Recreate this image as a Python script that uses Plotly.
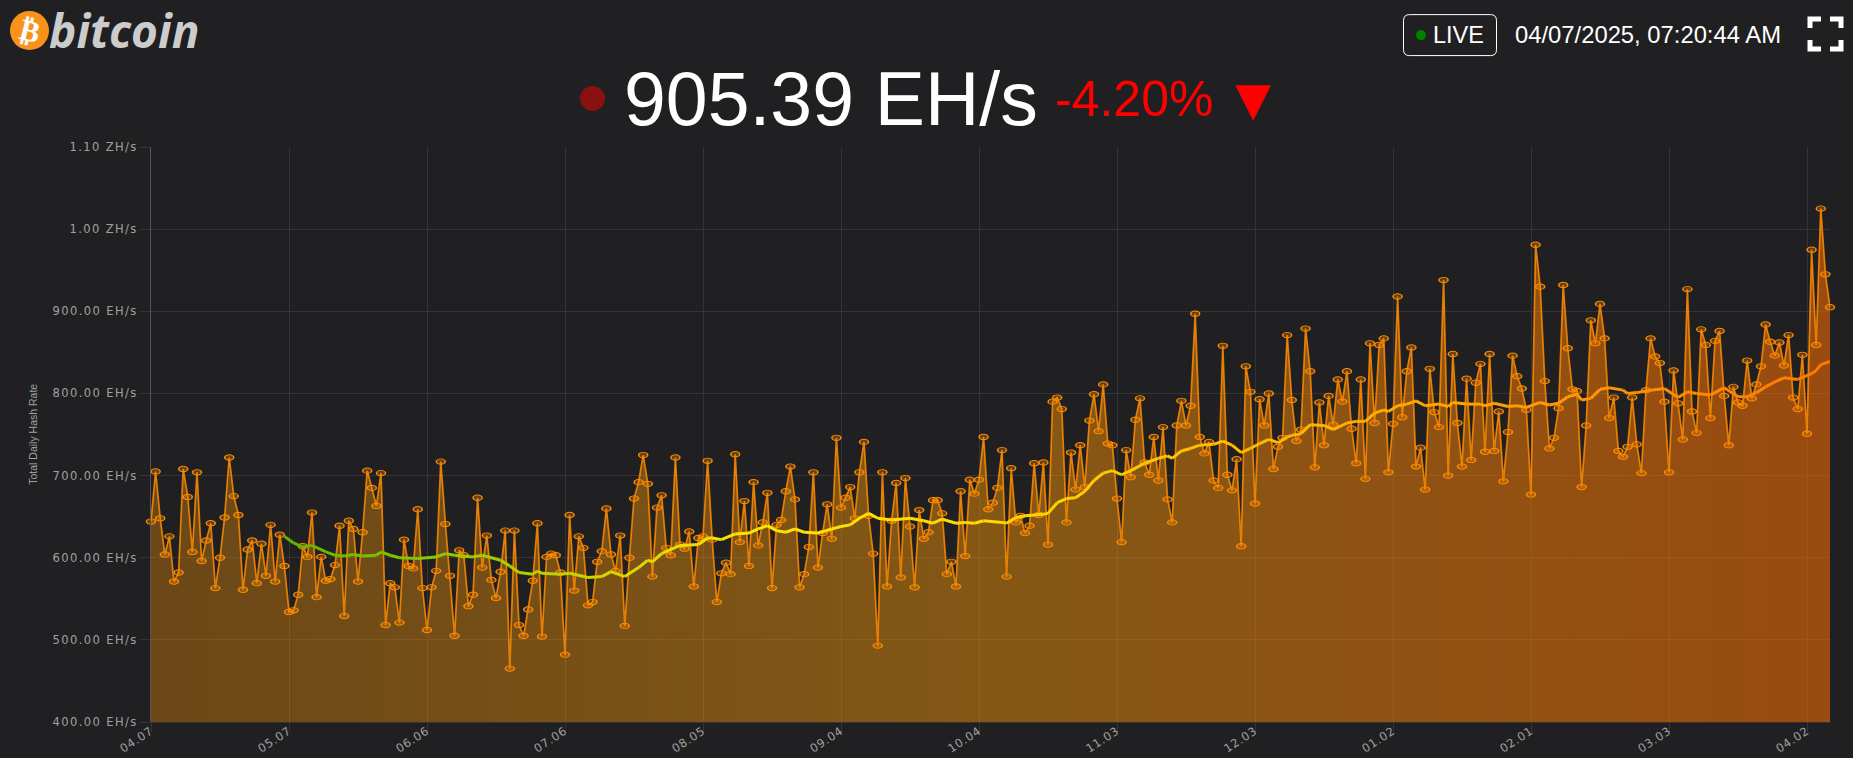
import datetime as dt
import plotly.graph_objects as go

START = dt.date(2024, 4, 7)

# Total daily hash rate (EH/s), one value per day
hash_apr_may = [644, 705, 648, 604, 626, 571, 582, 708, 674, 607, 704, 596, 621, 642, 563, 600, 649, 722, 675, 652,
                561, 610, 621, 569, 617, 578, 640, 571, 628, 590, 534, 536, 555, 614, 601, 655, 552, 601, 572, 574,
                591, 639, 529, 645, 635, 571, 631, 706, 685, 663, 703, 518, 569, 564, 521, 622, 590, 587, 659, 563]
hash_jun_jul = [512, 564, 584, 717, 641, 578, 505, 609, 603, 541, 555, 673, 588, 627, 573, 551, 583, 633, 465, 633,
                518, 505, 537, 572, 642, 504, 601, 605, 603, 582, 482, 652, 560, 626, 612, 542, 546, 595, 608, 660,
                604, 584, 627, 517, 600, 672, 692, 725, 690, 577, 661, 676, 612, 603, 722, 616, 611, 632, 565, 624,
                626, 718]
hash_aug_oct = [622, 546, 581, 594, 580, 726, 619, 669, 590, 692, 615, 643, 679, 563, 640, 646, 681, 711, 671, 564,
                580, 613, 704, 588, 630, 665, 623, 746, 661, 673, 686, 648, 704, 741, 651, 605, 493, 704, 565, 645,
                691, 576, 697, 638, 564, 658, 623, 631, 670, 670, 654, 580, 595, 565, 681, 602, 695, 678, 695, 747,
                659, 667, 685, 731]
hash_oct_dec = [577, 709, 643, 651, 630, 639, 715, 652, 716, 616, 790, 795, 781, 643, 728, 683, 737, 686, 767, 799,
                754, 811, 739, 737, 672, 619, 731, 698, 768, 794, 716, 701, 747, 694, 759, 671, 643, 761, 791, 761,
                785, 897, 747, 727, 741, 694, 685, 858, 701, 682, 720, 614, 833, 802, 666, 793, 761, 800, 708, 735,
                746, 871, 792]
hash_dec_feb = [742, 756, 879, 827, 710, 789, 737, 797, 762, 817, 790, 827, 757, 715, 817, 696, 861, 764, 859, 867,
                704, 763, 918, 771, 827, 856, 711, 734, 683, 830, 777, 759, 938, 700, 848, 764, 711, 818, 719, 813,
                836, 729, 848, 730, 778, 693, 753, 846, 821, 806, 780, 677, 981, 930, 815, 733, 746, 782, 932, 855,
                805, 803, 686]
hash_feb_apr = [761, 889, 861, 909, 867, 770, 795, 730, 723, 735, 795, 738, 703, 804, 867, 845, 837, 790, 704, 828,
                788, 744, 927, 778, 752, 878, 859, 770, 864, 876, 797, 737, 808, 789, 785, 840, 794, 811, 833, 884,
                863, 846, 862, 834, 871, 795, 781, 847, 751, 975, 859, 1025, 945, 905]
hash_values = hash_apr_may + hash_jun_jul + hash_aug_oct + hash_oct_dec + hash_dec_feb + hash_feb_apr
hash_dates = [START + dt.timedelta(days=i) for i in range(len(hash_values))]

# Moving-average line at these day numbers
ma_days = [29, 31, 33, 35, 38, 40, 42, 44, 46, 49, 50, 52, 54, 58, 62, 64, 66, 70, 72, 76, 78, 80, 83, 84, 85, 89, 91,
           95, 98, 100, 103, 106, 108, 109, 111, 115, 119, 121, 122, 124, 127, 130, 132, 134, 136, 138, 140, 142, 145,
           148, 150, 152, 154, 156, 158, 161, 165, 168, 170, 172, 175, 177, 179, 181, 185, 186, 188, 190, 194, 195,
           197, 199, 201, 203, 205, 207, 209, 211, 213, 216, 219, 221, 222, 224, 226, 228, 231, 233, 235, 237, 239,
           241, 243, 245, 247, 248, 250, 252, 255, 257, 260, 262, 264, 266, 268, 269, 271, 273, 275, 277, 280, 282,
           283, 286, 289, 290, 292, 295, 297, 299, 302, 304, 306, 308, 310, 311, 313, 315, 317, 320, 321, 323, 326,
           329, 332, 334, 336, 339, 342, 345, 347, 349, 351, 353, 355, 358, 361, 362, 363, 365]
ma_values = [626, 618, 613, 615, 607, 603, 602, 604, 602, 603, 607, 603, 600, 599, 601, 605, 603, 601, 603, 597, 590,
             582, 580, 584, 581, 580, 581, 576, 577, 583, 577, 588, 597, 595, 605, 615, 616, 624, 624, 622, 629, 630,
             635, 639, 633, 631, 635, 631, 630, 635, 638, 640, 648, 654, 648, 646, 648, 645, 642, 647, 642, 643, 642,
             645, 643, 642, 649, 651, 653, 654, 667, 672, 673, 681, 694, 703, 706, 701, 706, 715, 721, 724, 721, 730,
             733, 737, 738, 742, 737, 728, 733, 739, 744, 740, 747, 749, 751, 762, 761, 756, 764, 766, 766, 776, 780,
             778, 785, 787, 791, 785, 787, 784, 789, 787, 787, 785, 788, 784, 785, 783, 789, 786, 788, 796, 799, 792,
             794, 805, 807, 804, 800, 801, 804, 806, 795, 802, 800, 798, 807, 796, 796, 801, 808, 814, 819, 817, 824,
             828, 835, 839]

y_ticks = [400, 500, 600, 700, 800, 900, 1000, 1100]
y_labels = ["400.00 EH/s", "500.00 EH/s", "600.00 EH/s", "700.00 EH/s", "800.00 EH/s", "900.00 EH/s", "1.00 ZH/s", "1.10 ZH/s"]
x_tick_days = [0, 30, 60, 90, 120, 150, 180, 210, 240, 270, 300, 330, 360]

BG = "#202022"
L, R, T, B = 151, 1830, 147, 722.5
W, H = 1853, 758


def px(x):
    return (x - L) / (R - L)


def py(y):
    return (B - y) / (B - T)


def lerp_colour(t, stops):
    for (a, ca), (b, cb) in zip(stops, stops[1:]):
        if a <= t <= b:
            f = (t - a) / (b - a)
            return "rgb(%d,%d,%d)" % tuple(round(p + (q - p) * f) for p, q in zip(ca, cb))
    return "rgb(%d,%d,%d)" % stops[-1][1]


MA_STOPS = [(29, (95, 180, 0)), (60, (140, 200, 0)), (100, (215, 215, 0)), (130, (255, 230, 0)),
            (185, (255, 215, 0)), (230, (255, 190, 0)), (300, (255, 155, 0)), (365, (255, 120, 0))]

fig = go.Figure()
fig.add_trace(go.Scatter(
    x=hash_dates, y=hash_values, mode="lines+markers", hoverinfo="skip", cliponaxis=False,
    line=dict(color="rgba(255,140,0,0.85)", width=1.7),
    marker=dict(size=6, symbol="circle", color="rgba(255,140,0,0.3)", line=dict(color="#ff8c00", width=1)),
    fill="tozeroy",
    fillgradient=dict(type="horizontal", colorscale=[[0, "rgba(255,150,5,0.34)"], [0.5, "rgba(255,155,5,0.45)"],
                                                     [1, "rgba(255,110,0,0.55)"]]),
))
for i in range(len(ma_days) - 1):
    fig.add_trace(go.Scatter(
        x=[START + dt.timedelta(days=ma_days[i]), START + dt.timedelta(days=ma_days[i + 1])],
        y=[ma_values[i], ma_values[i + 1]],
        mode="lines", hoverinfo="skip",
        line=dict(color=lerp_colour(ma_days[i], MA_STOPS), width=3),
    ))

axis_font = dict(family="DejaVu Sans", size=11.5, color="#a0a0a0")
fig.update_layout(
    width=W, height=H, autosize=False, showlegend=False,
    paper_bgcolor=BG, plot_bgcolor=BG,
    margin=dict(l=L, r=W - R, t=T, b=H - B, pad=0),
    xaxis=dict(
        type="date", automargin=False,
        range=[START, START + dt.timedelta(days=(R - L) / 4.597)],
        tickvals=[START + dt.timedelta(days=d) for d in x_tick_days],
        ticktext=[(START + dt.timedelta(days=d)).strftime("%m.%d") for d in x_tick_days],
        tickangle=-33, tickfont=axis_font, ticklabelstandoff=-12,
        showgrid=True, gridcolor="#343437", gridwidth=1,
        ticks="outside", ticklen=9, tickcolor="#343437", tickwidth=1,
        showline=True, linecolor="#343437", zeroline=False,
    ),
    yaxis=dict(
        automargin=False,
        range=[400, 1100], tickvals=y_ticks, ticktext=y_labels, tickfont=axis_font,
        showgrid=True, gridcolor="#343437", gridwidth=1,
        ticks="outside", ticklen=10, tickcolor="#343437", tickwidth=1,
        showline=True, linecolor="#55555a", linewidth=1, zeroline=False,
    ),
)


def text(t, x, y, size, colour, family="Liberation Sans", anchor="left", angle=0, **font_extra):
    fig.add_annotation(text=t, x=px(x), y=py(y), xref="paper", yref="paper", xanchor=anchor, yanchor="middle",
                       showarrow=False, borderpad=0, borderwidth=0, textangle=angle,
                       font=dict(family=family, size=size, color=colour, **font_extra))


text("Total Daily Hash Rate", 33, 435, 10.5, "#a0a0a0", anchor="center", angle=-90)

# Logo
fig.add_shape(type="circle", xref="paper", yref="paper", x0=px(10), x1=px(49), y0=py(50), y1=py(11),
              fillcolor="#f7931a", line_width=0)
text("₿", 29.5, 30.5, 30, "white", family="DejaVu Sans", anchor="center", angle=14, weight=700)
text("bitcoin", 49, 30, 46, "#cccccc", family="Open Sans", weight=700, style="italic")

# Live box
def rounded_box(x0, y0, x1, y1, r):
    return (f"M {px(x0 + r)} {py(y0)} L {px(x1 - r)} {py(y0)} Q {px(x1)} {py(y0)} {px(x1)} {py(y0 + r)} "
            f"L {px(x1)} {py(y1 - r)} Q {px(x1)} {py(y1)} {px(x1 - r)} {py(y1)} "
            f"L {px(x0 + r)} {py(y1)} Q {px(x0)} {py(y1)} {px(x0)} {py(y1 - r)} "
            f"L {px(x0)} {py(y0 + r)} Q {px(x0)} {py(y0)} {px(x0 + r)} {py(y0)} Z")


fig.add_shape(type="path", xref="paper", yref="paper", path=rounded_box(1403.5, 14.5, 1496.5, 55.5, 6),
              line=dict(color="white", width=1))
fig.add_shape(type="circle", xref="paper", yref="paper", x0=px(1416), x1=px(1426), y0=py(40), y1=py(30),
              fillcolor="#008000", line_width=0)
text("LIVE", 1433, 34.5, 23.5, "white")
text("04/07/2025, 07:20:44 AM", 1515, 34.5, 23.8, "white")

# Fullscreen icon
for a, b, c in [((1810, 28), (1810, 19), (1821, 19)), ((1830, 19), (1841, 19), (1841, 28)),
                ((1810, 40), (1810, 49), (1821, 49)), ((1830, 49), (1841, 49), (1841, 40))]:
    fig.add_shape(type="path", xref="paper", yref="paper",
                  path=f"M {px(a[0])} {py(a[1])} L {px(b[0])} {py(b[1])} L {px(c[0])} {py(c[1])}",
                  line=dict(color="white", width=5))

# Headline
fig.add_shape(type="circle", xref="paper", yref="paper", x0=px(580), x1=px(605), y0=py(111), y1=py(86),
              fillcolor="#8b1010", line_width=0)
text("905.39 EH/s", 624, 99, 75.2, "white")
text("-4.20%", 1055, 99, 50, "#ff0000")
text("▼", 1253, 99, 61, "#ff0000", anchor="center")

POST = """
document.body.style.margin='0';document.body.style.overflow='hidden';
var st=document.createElement('style');
st.textContent='.ytick text{letter-spacing:1.4px}.xtick text{letter-spacing:.8px}';
document.head.appendChild(st);
document.querySelectorAll('.scatterlayer .points path').forEach(function(p){
  p.setAttribute('transform',(p.getAttribute('transform')||'')+' scale(1.5,0.9)');
});
"""
fig.write_html("out.html", config={"displayModeBar": False}, post_script=POST)
